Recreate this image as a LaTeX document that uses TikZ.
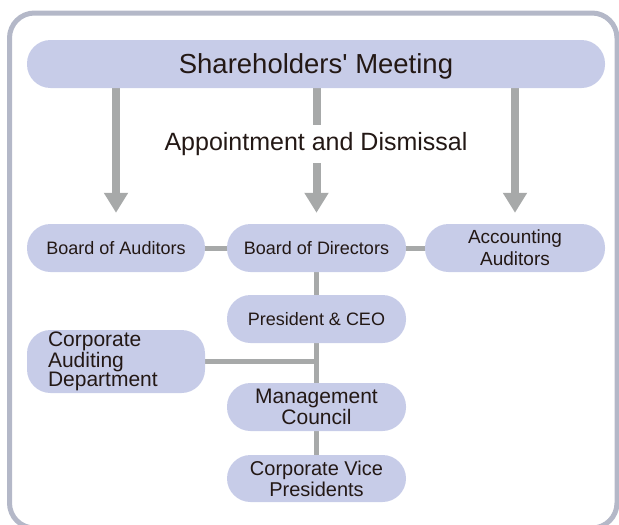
\documentclass[tikz,border=0pt]{standalone}
\usepackage{fontspec}
\setmainfont{Liberation Sans}
\usetikzlibrary{arrows.meta,backgrounds}

\definecolor{boxfill}{RGB}{199,204,232}
\definecolor{linegray}{RGB}{167,169,169}
\definecolor{framegray}{RGB}{180,184,200}
\definecolor{ink}{RGB}{35,24,21}

\tikzset{
	unit/.style={fill=boxfill, rounded corners=23.5pt, minimum height=48pt, inner sep=0pt, text=ink, align=center, font=\fontsize{18}{21}\selectfont},
	link/.style={draw=linegray, line width=5pt},
	appoint/.style={draw=linegray, line width=8pt, -{Triangle[width=23pt,length=20pt]}, shorten >=11pt},
}

\begin{document}
\begin{tikzpicture}[x=1pt,y=-1pt]
		\useasboundingbox (0,0) rectangle (619,525);
		%Outer frame
		\draw[framegray, line width=5pt, rounded corners=25pt] (9.5,13) rectangle (617,528);
		
		%Shareholders' Meeting
		\node[unit, minimum width=578pt, text depth=0pt, font=\fontsize{27.5}{30}\selectfont] (meeting) at (316,64) {Shareholders\textquotesingle\ Meeting};
		
		%Second row
		\node[unit, minimum width=178pt] (auditors) at (116,248) {Board of Auditors};
		\node[unit, minimum width=179pt] (directors) at (316.5,248) {Board of Directors};
		\node[unit, minimum width=180pt, font=\fontsize{19}{22}\selectfont] (accounting) at (515,248) {Accounting\\Auditors};
		
		%Executive column
		\def\x{316.5}
		\node[unit, minimum width=179pt] (ceo) at (\x,319) {President \& CEO};
		\node[unit, minimum width=179pt, font=\fontsize{21}{18}\selectfont] (council) at (\x,407) {Management\\Council};
		\node[unit, minimum width=179pt, minimum height=47pt, font=\fontsize{20}{21}\selectfont] (vice) at (\x,478.5) {Corporate Vice\\Presidents};
		
		%Corporate Auditing Department
		\node[unit, minimum height=63pt, text width=136pt, inner xsep=21pt, align=left, font=\fontsize{21}{18}\selectfont] (internal) at (116,361.5) {Corporate\\Auditing\\Department};
		
		\begin{scope}[on background layer]
			\draw[link] (auditors) -- (directors);
			\draw[link] (directors) -- (accounting);
			\draw[link] (directors) -- (ceo);
			\draw[link] (ceo) -- (council);
			\draw[link] (council) -- (vice);
			\coordinate (tee) at (internal.east -| directors.south);
			\draw[link] (internal.east) -- (tee);
			
			\draw[appoint] (meeting.south -| auditors.north) -- (auditors.north);
			\draw[appoint] (meeting.south -| directors.north) -- (directors.north);
			\draw[appoint] (meeting.south -| accounting.north) -- (accounting.north);
		\end{scope}
		
		\node[fill=white, inner xsep=4pt, inner ysep=7pt, anchor=base, text=ink, font=\fontsize{25}{28}\selectfont] (appt) at (316,150.5) {Appointment and Dismissal};
		
	\end{tikzpicture}
\end{document}
